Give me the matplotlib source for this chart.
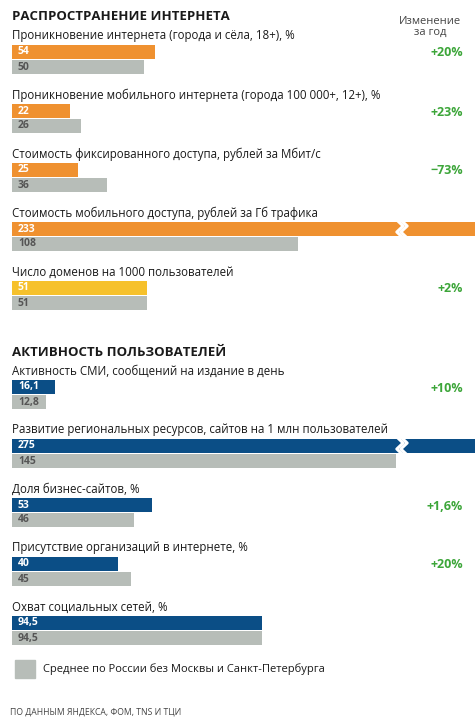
import matplotlib
matplotlib.use("Agg")
import matplotlib.pyplot as plt
from matplotlib.patches import Rectangle

plt.rcParams['font.family'] = ['Open Sans', 'DejaVu Sans']

labels1 = ["Проникновение интернета (города и сёла, 18+), %",
           "Проникновение мобильного интернета (города 100 000+, 12+), %",
           "Стоимость фиксированного доступа, рублей за Мбит/с",
           "Стоимость мобильного доступа, рублей за Гб трафика",
           "Число доменов на 1000 пользователей"]
vals1 = [54, 22, 25, 233, 51]
avg1 = [50, 26, 36, 108, 51]
txt1 = ["54", "22", "25", "233", "51"]
atxt1 = ["50", "26", "36", "108", "51"]
chg1 = ["+20%", "+23%", "−73%", "", "+2%"]

labels2 = ["Активность СМИ, сообщений на издание в день",
           "Развитие региональных ресурсов, сайтов на 1 млн пользователей",
           "Доля бизнес-сайтов, %",
           "Присутствие организаций в интернете, %",
           "Охват социальных сетей, %"]
vals2 = [16.1, 275, 53, 40, 94.5]
avg2 = [12.8, 145, 46, 45, 94.5]
txt2 = ["16,1", "275", "53", "40", "94,5"]
atxt2 = ["12,8", "145", "46", "45", "94,5"]
chg2 = ["+10%", "", "+1,6%", "+20%", ""]

ORANGE = "#EF9130"
YELLOW = "#F6C12C"
BLUE = "#0B4E86"
GREY = "#B7BDB8"
GREEN = "#3DA63A"
DARK = "#1a1a1a"

W, H = 475, 718
K = 2.65  # px per unit
X0 = 12

fig = plt.figure(figsize=(W / 100, H / 100), dpi=100)
ax = fig.add_axes([0, 0, 1, 1])
ax.set_xlim(-X0 / K, (W - X0) / K)
ax.set_ylim(H, 0)
ax.axis('off')
xmax = (W - X0) / K

def px(x):
    return (x - X0) / K

def row(y_label, lab, v, a, t, at, chg, color):
    ax.text(px(12), y_label, lab, fontsize=8.3, va='center', color=DARK)
    yb = y_label + 16
    ax.barh(yb, min(v, xmax + 5), height=14.5, left=0, color=color)
    ax.barh(yb + 15, a, height=14.5, left=0, color=GREY)
    ax.text(px(18), yb, t, fontsize=7.5, fontweight='bold', color='white', va='center')
    ax.text(px(18), yb + 15, at, fontsize=7.5, fontweight='bold', color='#555555', va='center')
    if v > xmax:
        bx = px(400)
        ax.plot([bx - 1.2, bx + 1.2, bx - 1.2, bx + 1.2], [yb - 9, yb - 3, yb + 3, yb + 9],
                color='white', lw=2.2)
        ax.plot([bx + 0.3, bx + 2.7, bx + 0.3, bx + 2.7], [yb - 9, yb - 3, yb + 3, yb + 9],
                color='white', lw=2.2)
    if chg:
        ax.text(px(463), yb + 1, chg, fontsize=9, fontweight='bold', color=GREEN,
                ha='right', va='center')

ax.text(px(12), 17, "РАСПРОСТРАНЕНИЕ ИНТЕРНЕТА", fontsize=9.5, fontweight='bold', va='center', color=DARK)
ax.text(px(430), 27, "Изменение\nза год", fontsize=8, ha='center', va='center',
        color='#444444', linespacing=1.1)
for i in range(5):
    c = YELLOW if i == 4 else ORANGE
    row(36 + i * 59, labels1[i], vals1[i], avg1[i], txt1[i], atxt1[i], chg1[i], c)

ax.text(px(12), 352, "АКТИВНОСТЬ ПОЛЬЗОВАТЕЛЕЙ", fontsize=9.5, fontweight='bold', va='center', color=DARK)
for i in range(5):
    row(371 + i * 59, labels2[i], vals2[i], avg2[i], txt2[i], atxt2[i], chg2[i], BLUE)

ax.add_patch(Rectangle((px(15), 660), 20 / K, 18, color=GREY))
ax.text(px(43), 669, "Среднее по России без Москвы и Санкт-Петербурга", fontsize=8,
        va='center', color=DARK)
ax.text(px(10), 712, "ПО ДАННЫМ ЯНДЕКСА, ФОМ, TNS И ТЦИ", fontsize=6.2, va='center', color='#444444')

fig.savefig("out.png", dpi=100)
